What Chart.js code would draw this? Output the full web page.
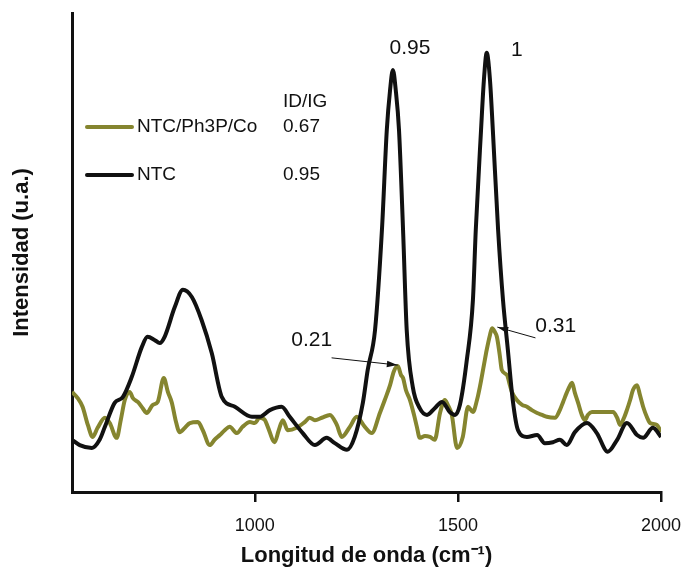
<!DOCTYPE html>
<html>
<head>
<meta charset="utf-8">
<script src="https://cdn.jsdelivr.net/npm/chart.js@4.4.1/dist/chart.umd.min.js"></script>
<style>
    html, body { margin: 0; padding: 0; background: #fff; }
    #wrap { width: 683px; height: 567px; }
</style>
</head>
<body>
<div id="wrap"><canvas id="ramanChart" width="683" height="567"></canvas></div>
<script>
// Raman spectra (intensity in arbitrary units, 0-100)
const ntcWave = [550, 569, 599, 618, 631, 655, 675, 697, 722, 736, 754, 766, 778, 803, 823, 845, 869, 894, 919, 951,
    993, 1012, 1037, 1066, 1086, 1118, 1148, 1177, 1197, 1227, 1246, 1266, 1278, 1296, 1313, 1325, 1333, 1340, 1347, 1355,
    1365, 1374, 1389, 1406, 1424, 1443, 1461, 1480, 1493, 1505, 1522, 1537, 1544, 1557, 1564, 1571, 1579, 1586, 1599, 1611,
    1623, 1635, 1648, 1670, 1695, 1714, 1734, 1751, 1768, 1788, 1818, 1842, 1869, 1892, 1916, 1941, 1956, 1980, 2000];
const ntcIntensity = [10.9, 9.8, 9.2, 10.9, 13.6, 18.6, 19.8, 24.0, 30.3, 32.4, 31.7, 31.1, 32.4, 38.6, 42.2, 40.7, 35.9, 29.0, 19.8, 17.8,
    15.7, 15.7, 17.1, 17.8, 15.7, 12.3, 9.8, 11.3, 10.2, 8.8, 11.5, 18.6, 25.5, 33.8, 54.7, 75.6, 83.9, 88.1, 83.9, 75.6,
    54.7, 33.8, 21.9, 17.5, 16.1, 17.5, 18.8, 16.7, 16.1, 18.2, 27.6, 40.1, 54.7, 75.6, 86.0, 91.7, 86.0, 75.6, 54.7, 40.1,
    29.7, 19.2, 12.9, 11.5, 11.9, 10.2, 10.4, 10.9, 9.8, 12.5, 14.4, 12.3, 8.4, 10.9, 14.4, 11.9, 11.3, 13.4, 11.5];

const coWave = [550, 564, 576, 589, 601, 613, 631, 643, 660, 670, 680, 692, 700, 712, 724, 734, 749, 761, 776, 786,
    796, 805, 815, 828, 840, 860, 872, 889, 901, 914, 926, 938, 956, 970, 988, 1000, 1012, 1025, 1032, 1049,
    1059, 1069, 1081, 1103, 1123, 1135, 1148, 1165, 1185, 1202, 1214, 1234, 1251, 1271, 1288, 1308, 1320, 1333, 1342, 1352,
    1360, 1365, 1372, 1382, 1392, 1399, 1406, 1419, 1431, 1443, 1456, 1468, 1475, 1485, 1498, 1512, 1525, 1537, 1547, 1554,
    1564, 1571, 1579, 1584, 1591, 1596, 1603, 1608, 1621, 1628, 1633, 1645, 1658, 1670, 1682, 1695, 1707, 1719, 1739, 1751,
    1759, 1771, 1781, 1788, 1796, 1805, 1813, 1820, 1830, 1857, 1882, 1892, 1899, 1909, 1916, 1924, 1931, 1941, 1948, 1956,
    1966, 1973, 1990, 2000];
const coIntensity = [20.9, 19.6, 17.8, 14.0, 11.5, 13.4, 15.5, 14.4, 11.3, 15.0, 19.2, 20.9, 19.6, 18.8, 17.5, 16.5, 18.2, 18.8, 23.8, 20.9,
    18.6, 15.0, 12.5, 13.4, 14.4, 14.6, 12.9, 9.8, 10.9, 11.9, 12.9, 13.6, 12.3, 13.6, 14.6, 14.4, 15.5, 15.0, 13.6, 10.4,
    12.9, 15.0, 12.9, 13.4, 14.6, 15.5, 15.0, 15.5, 16.1, 14.0, 11.5, 13.6, 15.7, 13.6, 12.3, 16.5, 19.2, 22.3, 25.1, 26.3,
    24.4, 23.8, 21.3, 19.2, 16.1, 13.6, 11.3, 11.7, 11.5, 10.9, 16.5, 19.2, 18.2, 16.1, 9.2, 11.5, 17.8, 16.7, 19.2, 21.9,
    26.5, 29.7, 32.8, 34.2, 33.4, 32.4, 28.6, 25.5, 24.4, 22.3, 20.9, 19.2, 18.2, 17.8, 17.1, 16.5, 16.1, 15.7, 15.5, 17.1,
    18.8, 21.3, 22.8, 20.7, 18.6, 16.1, 15.0, 16.1, 16.7, 16.7, 16.7, 15.5, 14.0, 15.5, 17.1, 19.2, 21.3, 22.3, 20.3, 17.8,
    15.5, 14.4, 14.0, 12.5];

const xTicks = [1000, 1500, 2000];
const seriesNames = ['NTC/Ph3P/Co', 'NTC'];
const ratioTitle = 'ID/IG';
const ratioValues = ['0.67', '0.95'];
const peakTexts = ['0.95', '1', '0.21', '0.31'];

const OLIVE = '#85852f';
const INK = '#111111';
const FONT = 'Arial, "Liberation Sans", sans-serif';

function toPoints(xs, ys) {
    return xs.map((x, i) => ({ x: x, y: ys[i] }));
}

// legend box and peak labels drawn inside the plot
const overlayPlugin = {
    id: 'overlay',
    afterDatasetsDraw(chart) {
        const ctx = chart.ctx;
        const area = chart.chartArea;
        const xs = chart.scales.x;
        const ys = chart.scales.y;
        ctx.save();

        // legend
        const colors = [OLIVE, INK];
        const rowY = [area.top + 114, area.top + 162];
        ctx.font = '19px ' + FONT;
        ctx.textBaseline = 'middle';
        ctx.fillStyle = INK;
        ctx.textAlign = 'left';
        ctx.fillText(ratioTitle, area.left + 211, area.top + 89);
        seriesNames.forEach((name, i) => {
            ctx.strokeStyle = colors[i];
            ctx.lineWidth = 4;
            ctx.lineCap = 'round';
            ctx.beginPath();
            ctx.moveTo(area.left + 15, rowY[i]);
            ctx.lineTo(area.left + 60, rowY[i]);
            ctx.stroke();
            ctx.fillStyle = INK;
            ctx.fillText(name, area.left + 65, rowY[i]);
            ctx.fillText(ratioValues[i], area.left + 211, rowY[i]);
        });

        // peak ratio labels (positions in data units)
        const labelPos = [[1382, 92.7], [1645, 92.3], [1140, 31.7], [1741, 34.7]];
        ctx.font = '21px ' + FONT;
        ctx.textAlign = 'center';
        peakTexts.forEach((t, i) => {
            ctx.fillText(t, xs.getPixelForValue(labelPos[i][0]), ys.getPixelForValue(labelPos[i][1]));
        });

        // arrows pointing at the Co sample peaks
        const arrows = [[1190, 28.0, 1351, 26.5], [1690, 32.2, 1598, 34.4]];
        ctx.strokeStyle = INK;
        ctx.fillStyle = INK;
        ctx.lineWidth = 1;
        arrows.forEach(a => {
            const x1 = xs.getPixelForValue(a[0]), y1 = ys.getPixelForValue(a[1]);
            const x2 = xs.getPixelForValue(a[2]), y2 = ys.getPixelForValue(a[3]);
            ctx.beginPath();
            ctx.moveTo(x1, y1);
            ctx.lineTo(x2, y2);
            ctx.stroke();
            const ang = Math.atan2(y2 - y1, x2 - x1);
            ctx.beginPath();
            ctx.moveTo(x2, y2);
            ctx.lineTo(x2 - 11 * Math.cos(ang - 0.3), y2 - 11 * Math.sin(ang - 0.3));
            ctx.lineTo(x2 - 11 * Math.cos(ang + 0.3), y2 - 11 * Math.sin(ang + 0.3));
            ctx.closePath();
            ctx.fill();
        });

        ctx.restore();
    }
};

const ctx = document.getElementById('ramanChart').getContext('2d');
new Chart(ctx, {
    type: 'line',
    data: {
        datasets: [
            {
                label: seriesNames[1],
                data: toPoints(ntcWave, ntcIntensity),
                borderColor: INK,
                borderWidth: 4,
                pointRadius: 0,
                cubicInterpolationMode: 'monotone',
                borderJoinStyle: 'round'
            },
            {
                label: seriesNames[0],
                data: toPoints(coWave, coIntensity),
                borderColor: OLIVE,
                borderWidth: 4,
                pointRadius: 0,
                cubicInterpolationMode: 'monotone',
                borderJoinStyle: 'round'
            }
        ]
    },
    options: {
        responsive: false,
        animation: false,
        devicePixelRatio: 1,
        layout: { padding: { top: 13, right: 22, bottom: 0, left: 0 } },
        plugins: {
            legend: { display: false },
            tooltip: { enabled: false }
        },
        scales: {
            x: {
                type: 'linear',
                min: 550,
                max: 2000,
                afterBuildTicks: axis => { axis.ticks = xTicks.map(v => ({ value: v })); },
                afterFit: scale => {
                    scale.height = 75;
                    // the layout padding already leaves room for the "2000" label
                    scale.paddingLeft = 0;
                    scale.paddingRight = 0;
                },
                grid: {
                    display: true,
                    drawOnChartArea: false,
                    drawTicks: true,
                    tickLength: 10,
                    color: INK,
                    lineWidth: 2.5
                },
                border: { display: true, color: INK, width: 3 },
                ticks: {
                    color: INK,
                    padding: 13,
                    font: { family: FONT, size: 18 },
                    callback: v => String(v),
                    maxRotation: 0
                },
                title: {
                    display: true,
                    text: 'Longitud de onda (cm⁻¹)',
                    color: INK,
                    font: { family: FONT, size: 22, weight: 'bold', lineHeight: 1 },
                    padding: { top: 0, bottom: 0 }
                }
            },
            y: {
                min: 0,
                max: 100,
                afterFit: scale => { scale.width = 72; },
                grid: { display: false },
                border: { display: true, color: INK, width: 3 },
                ticks: { display: false },
                title: {
                    display: true,
                    text: 'Intensidad (u.a.)',
                    color: INK,
                    font: { family: FONT, size: 22, weight: 'bold', lineHeight: 1 },
                    padding: { top: 11, bottom: 0 }
                }
            }
        }
    },
    plugins: [overlayPlugin]
});
</script>
</body>
</html>
